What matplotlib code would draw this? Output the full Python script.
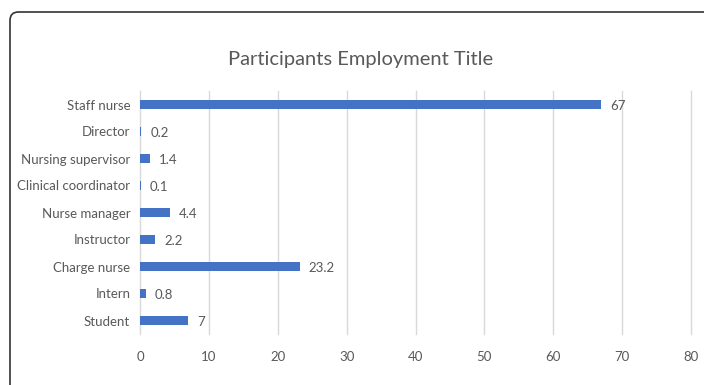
import matplotlib.pyplot as plt
from matplotlib.patches import FancyBboxPatch

titles = ["Staff nurse", "Director", "Nursing supervisor", "Clinical coordinator",
          "Nurse manager", "Instructor", "Charge nurse", "Intern", "Student"]
percent = [67, 0.2, 1.4, 0.1, 4.4, 2.2, 23.2, 0.8, 7]
xticks = [0, 10, 20, 30, 40, 50, 60, 70, 80]

plt.rcParams['font.family'] = ['Lato', 'DejaVu Sans']
text_col = '#595959'

fig = plt.figure(figsize=(7.04, 3.85), dpi=100)
W, H = 704, 385
ax = fig.add_axes([140 / W, 1 - 334 / H, 551 / W, 243 / H])

pos = list(range(len(titles)))
ax.barh(pos, percent, height=0.36, color='#4472C4', zorder=3)
for p, v in zip(pos, percent):
    ax.text(v + 1.3, p + 0.05, f"{v:g}", va='center', ha='left', fontsize=9.5, color=text_col)

ax.set_ylim(len(titles) - 0.5, -0.5)
ax.set_xlim(0, 80)
ax.set_yticks(pos)
ax.set_yticklabels(titles, fontsize=9.5, color=text_col)
ax.set_xticks(xticks)
ax.set_xticklabels([str(t) for t in xticks], fontsize=9.5, color=text_col)
ax.tick_params(length=0, pad=7)
ax.tick_params(axis='x', pad=12)
ax.grid(axis='x', color='#D9D9D9', linewidth=1, zorder=0)
for gl in ax.get_xgridlines():
    gl.set_clip_on(False)
for s in ax.spines.values():
    s.set_visible(False)

fig.text(361 / W, 1 - 59 / H, "Participants Employment Title", ha='center', va='center',
         fontsize=14.5, color=text_col)

# chart border, runs off the right and bottom edges
border = FancyBboxPatch((10 / W, -0.2), 1.2, 1 - 12 / H + 0.2,
                        boxstyle="round,pad=0,rounding_size=0.012",
                        mutation_aspect=W / H,
                        transform=fig.transFigure, fill=False,
                        edgecolor='#333333', linewidth=1.2, clip_on=False)
fig.patches.append(border)

fig.savefig("out.png", dpi=100)
